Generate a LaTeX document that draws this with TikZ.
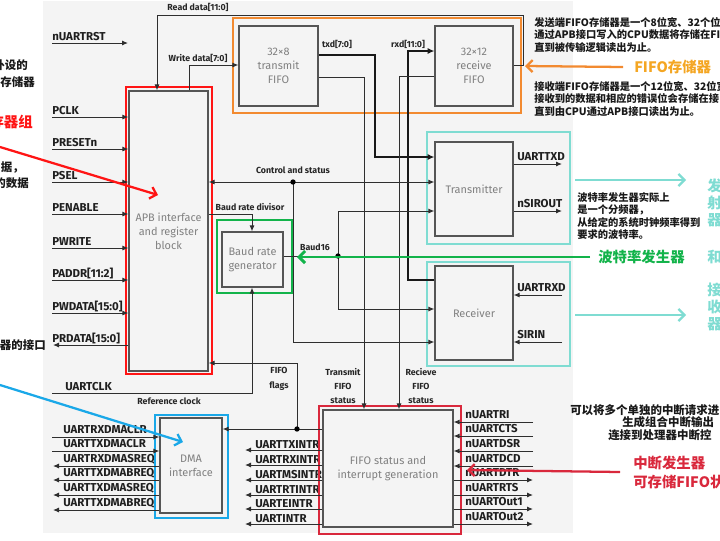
\documentclass[tikz,border=0pt]{standalone}
\usepackage{fontspec}
\setmainfont{Fira Sans}
\newfontfamily\cjk{Noto Sans CJK SC}
\usetikzlibrary{arrows.meta}
\definecolor{panel}{HTML}{F4F4F4}
\definecolor{boxline}{HTML}{555555}
\definecolor{wirec}{HTML}{2E2E2E}
\definecolor{boxtext}{HTML}{808080}
\definecolor{orangeA}{HTML}{F28A30}
\definecolor{goldA}{HTML}{F4A623}
\definecolor{tealA}{HTML}{7FDCD2}
\definecolor{greenA}{HTML}{12B34A}
\definecolor{redA}{HTML}{FF1414}
\definecolor{crimA}{HTML}{D9283C}
\definecolor{blueA}{HTML}{1AA8E8}
\begin{document}
\begin{tikzpicture}[x=0.75pt,y=-0.75pt,
  blk/.style={draw=boxline, line width=0.9pt, fill=panel, align=center, text=boxtext, font=\fontsize{8.2}{10.6}\selectfont, inner sep=0pt},
  sig/.style={font=\fontsize{8.6}{9.5}\selectfont\bfseries, inner sep=0pt, text=black!88},
  lbl/.style={font=\fontsize{6.6}{10.8}\selectfont\bfseries, inner sep=0pt, text=black!85, align=center},
  wire/.style={draw=wirec, line width=0.75pt},
  arr/.style={wire, -{Latex[length=4.5pt,width=3.8pt]}},
  biarr/.style={wire, {Latex[length=4.5pt,width=3.8pt]}-{Latex[length=4.5pt,width=3.8pt]}},
  busarr/.style={draw=black!90, line width=1.6pt, -{Latex[length=5pt,width=4.5pt]}},
  jdot/.style={circle, fill=black, inner sep=0pt, minimum size=4pt},
  hl/.style={line width=1.6pt},
  note/.style={font=\cjk\fontsize{7.7}{9.3}\selectfont\bfseries, inner sep=0pt, align=left, text=black!90},
  noteL/.style={font=\cjk\fontsize{8.6}{10}\selectfont\bfseries, inner sep=0pt, text=black!90},
  noteB/.style={font=\cjk\fontsize{8.6}{10}\selectfont\bfseries, inner sep=0pt, text=black!90},
  big/.style={font=\cjk\fontsize{10.8}{14.3}\selectfont\bfseries, inner sep=0pt, align=left},
  bigT/.style={font=\cjk\fontsize{11}{12.75}\selectfont\bfseries, inner sep=0pt, align=left, text=tealA},
  pointer/.style={line width=1.7pt, -{Straight Barb[length=4.5pt,width=9pt]}},
]
\useasboundingbox (0,0) rectangle (720,540);
\fill[panel] (43,1) rectangle (573,533);

% ---------- left annotation fragments (cut by the left edge, as in the reference)
\node[noteL, anchor=east] (fa) at (28,65) {外设的};
\node[noteL, anchor=east] (fb) at (35,82) {存储器};
\node[big, text=redA, anchor=east] (fc) at (33,122) {存器组};
\node[noteL, anchor=east] (fd) at (24,167) {据，};
\node[noteL, anchor=east] (fe) at (29,183) {的数据};
\node[noteL, anchor=east] (ff) at (46,345) {器的接口};

% ---------- signal labels
\node[sig, anchor=base west] (lrst) at (52,40) {nUARTRST};
\coordinate (rstS) at (52,43); \coordinate (rstE) at (128,43);
\foreach \t/\y [count=\i] in {PCLK/117,PRESETn/149,PSEL/182,PENABLE/214,PWRITE/248,{PADDR[11:2]}/280,{PWDATA[15:0]}/313}{
  \node[sig, anchor=base west] (lin\i) at (52,\y-3) {\t};
  \coordinate (pin\i) at (52,\y);}
\node[sig, anchor=base west] (lprd) at (52,342) {PRDATA[15:0]};
\coordinate (prdE) at (53,345);
\node[sig, anchor=base west] (lclk) at (65,390) {UARTCLK};
\coordinate (clkS) at (52,393);
\node[lbl] (lref) at (169,401) {Reference clock};
\foreach \t/\y [count=\i] in {UARTRXDMACLR/437,UARTTXDMACLR/451}{
  \node[sig, anchor=base west] (ldi\i) at (63,\y-4) {\t};
  \coordinate (dmi\i) at (52,\y);}
\foreach \t/\y [count=\i] in {UARTRXDMASREQ/466,UARTTXDMABREQ/480,UARTTXDMASREQ/495,UARTTXDMABREQ/510}{
  \node[sig, anchor=base west] (ldo\i) at (63,\y-4) {\t};
  \coordinate (dmo\i) at (53,\y);}
\foreach \t/\y [count=\i] in {UARTTXINTR/450,UARTRXINTR/465,UARTMSINTR/480,UARTRTINTR/495,UARTEINTR/509,UARTINTR/524}{
  \node[sig, anchor=base west] (lio\i) at (255,\y-2) {\t};
  \coordinate (ioE\i) at (245,\y);}
\foreach \t/\y [count=\i] in {nUARTRI/422,nUARTCTS/436,nUARTDSR/451,nUARTDCD/466}{
  \node[sig, anchor=base west] (lri\i) at (465,\y-3.5) {\t};
  \coordinate (riS\i) at (533,\y);}
\foreach \t/\y [count=\i] in {nUARTDTR/480,nUARTRTS/495,nUARTOut1/509,nUARTOut2/524}{
  \node[sig, anchor=base west] (lro\i) at (465,\y-3.5) {\t};
  \coordinate (roE\i) at (533,\y);}
\node[sig, anchor=base west] (lutx) at (517,160.5) {UARTTXD};
\node[sig, anchor=base west] (lsir) at (517,207.5) {nSIROUT};
\node[sig, anchor=base west] (lurx) at (517,291.5) {UARTRXD};
\node[sig, anchor=base west] (lsin) at (517,338.5) {SIRIN};
\coordinate (utxE) at (562,164); \coordinate (sirE) at (562,211);
\coordinate (urxS) at (562,295); \coordinate (sinS) at (562,342);

% ---------- blocks
\node[blk, minimum width=59.25pt, minimum height=60pt] (trF) at (278.5,66) {32×8\\transmit\\FIFO};
\node[blk, minimum width=58.5pt, minimum height=60pt] (rcF) at (474,66) {32×12\\receive\\FIFO};
\node[blk, minimum width=59.25pt, minimum height=210pt] (apb) at (168.5,231) {APB interface\\and register\\block};
\node[blk, minimum width=45.75pt, minimum height=41.25pt] (baud) at (252.5,259.5) {Baud rate\\generator};
\node[blk, minimum width=58.5pt, minimum height=70.5pt] (tx) at (474,189) {Transmitter};
\node[blk, minimum width=58.5pt, minimum height=70.5pt] (rx) at (474,313) {Receiver};
\node[blk, minimum width=46.5pt, minimum height=71.25pt] (dma) at (191,465.5) {DMA\\interface};
\node[blk, minimum width=97.5pt, minimum height=87.75pt] (intr) at (388,468.5) {FIFO status and\\interrupt generation};

% ---------- highlight frames
\draw[hl, orangeA] (233,18) rectangle (521,113);
\draw[hl, redA] (126,87) rectangle (212,374);
\draw[hl, greenA] (217,220) rectangle (292,293);
\draw[hl, tealA] (427,132) rectangle (570,244);
\draw[hl, tealA] (427,262) rectangle (570,366);
\draw[hl, blueA] (155,415) rectangle (228,518);
\draw[hl, crimA] (319,406) rectangle (461,534);

% ---------- wires
\draw[arr] (rstS) -- (rstE);
\foreach \i in {1,...,7}{\draw[arr] (pin\i) -- (apb.west |- pin\i);}
\draw[arr] (apb.west |- prdE) -- (prdE);
\foreach \i in {1,2}{\draw[arr] (dmi\i) -- (dma.west |- dmi\i);}
\foreach \i in {1,...,4}{\draw[arr] (dma.west |- dmo\i) -- (dmo\i);}
\foreach \i in {1,...,6}{\draw[arr] (intr.west |- ioE\i) -- (ioE\i);}
\foreach \i in {1,...,4}{\draw[arr] (riS\i) -- (intr.east |- riS\i);}
\foreach \i in {1,...,4}{\draw[arr] (intr.east |- roE\i) -- (roE\i);}
\draw[arr] (tx.east |- utxE) -- (utxE);
\draw[arr] (tx.east |- sirE) -- (sirE);
\draw[arr] (urxS) -- (rx.east |- urxS);
\draw[arr] (sinS) -- (rx.east |- sinS);

% read / write data
\draw[arr] (rcF.east |- 0,65) -- (523,65) -- (523,15) -- (157,15) -- (apb.north -| 157,0);
\draw[arr] (apb.north -| 189,0) -- (189,65) -- (trF.west |- 0,65);
% txd / rxd buses
\draw[busarr] (trF.east |- 0,55) -- (375,55) -- (375,157) -- (tx.west |- 0,157);
\draw[busarr] (rx.west |- 0,280) -- (408,280) -- (408,51) -- (rcF.west |- 0,51);
% FIFO status
\draw[arr] (trF.east |- 0,77) -- (364,77) -- (intr.north -| 364,0);
\draw[arr] (rcF.west |- 0,76) -- (399,76) -- (intr.north -| 399,0);
% control and status
\coordinate (jcs) at (293,182);
\draw[biarr] (apb.east |- jcs) -- (tx.west |- jcs);
\draw[arr] (jcs) -- (293,342) -- (rx.west |- 0,342);
% baud rate divisor
\draw[arr] (apb.east |- 0,214) -- (252,214) -- (baud.north -| 252,0);
% baud16
\coordinate (jb) at (338,256);
\draw[wire] (baud.east |- jb) -- (jb);
\draw[arr] (jb) -- (338,211) -- (tx.west |- 0,211);
\draw[arr] (jb) -- (338,309) -- (rx.west |- 0,309);
% uartclk
\draw[arr] (clkS) -- (252,393) -- (baud.south -| 252,0);
% FIFO flags
\coordinate (jf) at (297,429);
\draw[arr] (intr.west |- jf) -- (dma.east |- jf);
\draw[arr] (jf) -- (297,363) -- (apb.east |- 0,363);
\node[jdot] (d1) at (jcs) {};
\node[jdot] (d2) at (jb) {};
\node[jdot] (d3) at (jf) {};

% ---------- wire labels
\node[lbl] (lrd) at (198,7) {Read data[11:0]};
\node[lbl] (lwd) at (198,58) {Write data[7:0]};
\node[lbl] (ltxd) at (337,44) {txd[7:0]};
\node[lbl] (lrxd) at (408,44) {rxd[11:0]};
\node[lbl] (lcs) at (293,170) {Control and status};
\node[lbl] (lbd) at (250,207) {Baud rate divisor};
\node[lbl] (lb16) at (315,247) {Baud16};
\node[lbl] (lff) at (279,379) {FIFO\\flags};
\node[lbl] (lts) at (343,386) {Transmit\\FIFO\\status};
\node[lbl] (lrs) at (421,386) {Recieve\\FIFO\\status};

% ---------- annotations
\node[note, anchor=west] (n1) at (534,35) {发送端FIFO存储器是一个8位宽、32个位深\\通过APB接口写入的CPU数据将存储在FI\\直到被传输逻辑读出为止。};
\node[note, anchor=west] (n2) at (534,99) {接收端FIFO存储器是一个12位宽、32位宽\\接收到的数据和相应的错误位会存储在接\\直到由CPU通过APB接口读出为止。};
\node[note, anchor=west] (n3) at (577,216) {波特率发生器实际上\\是一个分频器，\\从给定的系统时钟频率得到\\要求的波特率。};
\node[noteB, anchor=west] (n4) at (570,410) {可以将多个单独的中断请求进};
\node[noteB, anchor=west] (n5) at (622,422) {生成组合中断输出};
\node[noteB, anchor=west] (n6) at (608,435) {连接到处理器中断控};

\node[big, text=goldA, anchor=west] (fifoLbl) at (634,67) {FIFO存储器};
\node[big, text=greenA, anchor=west] (baudLbl) at (598,257) {波特率发生器};
\node[big, text=crimA, anchor=west] (intLbl) at (633,472) {中断发生器\\可存储FIFO状};
\node[bigT, anchor=west] (t1) at (707,203) {发\\射\\器};
\node[bigT, anchor=west] (t2) at (707,257) {和};
\node[bigT, anchor=west] (t3) at (707,307) {接\\收\\器};

\coordinate (apbHit) at (158,195);
\coordinate (dmaHit) at (183,442);
\draw[pointer, orangeA] (fifoLbl.west) ++(-11,0) -- (525,66);
\draw[pointer, greenA, line width=2.2pt] (baudLbl.west) ++(-8,0) -- (297,257);
\draw[pointer, tealA] (575,180) -- (686,180);
\draw[pointer, tealA] (575,315) -- (686,315);
\draw[pointer, redA] (0,147) -- (apbHit);
\draw[pointer, blueA] (0,385) -- (dmaHit);
\draw[pointer, crimA] (intLbl.west) ++(-13,0) -- (467,470);
\end{tikzpicture}
\end{document}
